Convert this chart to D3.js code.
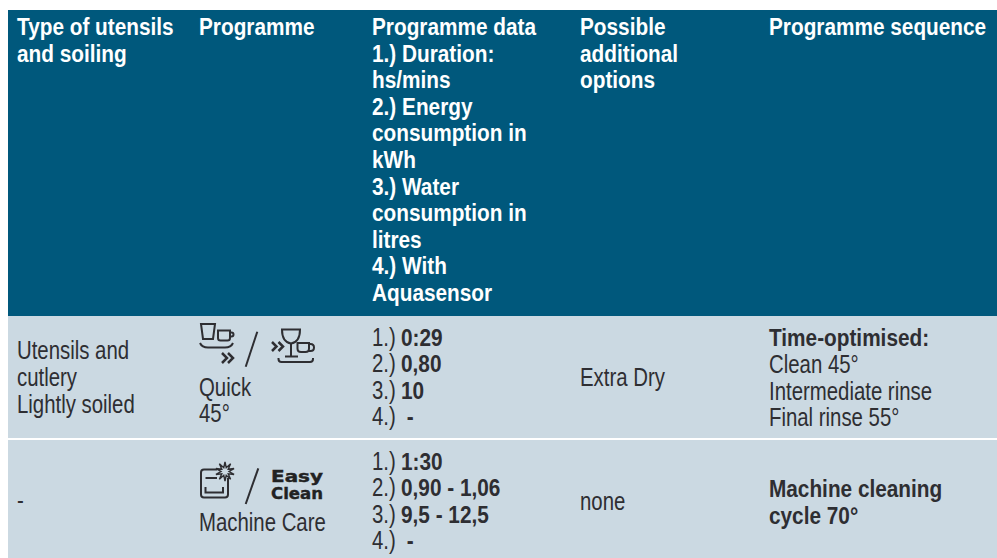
<!DOCTYPE html>
<html>
<head>
<meta charset="utf-8">
<script src="https://cdn.jsdelivr.net/npm/d3@7"></script>
<style>
  html, body { margin: 0; padding: 0; background: #fff; overflow: hidden; }
  svg { display: block; }
  text { font-family: "Liberation Sans", sans-serif; white-space: pre; }
</style>
</head>
<body>
<svg id="chart" width="997" height="558"></svg>
<script>
const columns = ['soiling', 'programme', 'data', 'options', 'sequence']
const rowNames = ['header', 'quick', 'care']

const headerSoiling = ['Type of utensils', 'and soiling']
const headerProgramme = ['Programme']
const headerData = ['Programme data', '1.) Duration:', 'hs/mins', '2.) Energy', 'consumption in', 'kWh', '3.) Water', 'consumption in', 'litres', '4.) With', 'Aquasensor']
const headerOptions = ['Possible', 'additional', 'options']
const headerSequence = ['Programme sequence']

const quickSoiling = ['Utensils and', 'cutlery', 'Lightly soiled']
const quickProgramme = ['Quick', '45°']
const quickNumbers = ['1.)', '2.)', '3.)', '4.)']
const quickData = ['0:29', '0,80', '10', ' -']
const quickOptions = ['Extra Dry']
const quickSeqTitle = ['Time-optimised:']
const quickSeq = ['Clean 45°', 'Intermediate rinse', 'Final rinse 55°']

const careSoiling = ['-']
const careProgramme = ['Machine Care']
const careData = ['1:30', '0,90 - 1,06', '9,5 - 12,5', ' -']
const careOptions = ['none']
const careSeqTitle = ['Machine cleaning', 'cycle 70°']
const easyClean = ['Easy', 'Clean']

const svg = d3.select('#chart')

const x = d3.scaleOrdinal().domain(columns).range([17, 199, 372, 580, 769])
const rowTop = d3.scaleOrdinal().domain(rowNames).range([10, 316, 440])
const rowBottom = d3.scaleOrdinal().domain(rowNames).range([316, 438, 558])
const fills = d3.scaleOrdinal().domain(rowNames).range(['#00587c', '#cbd9e2', '#cbd9e2'])

svg.selectAll('.band')
  .data(rowNames)
  .enter()
  .append('rect')
  .classed('band', true)
  .attr('x', 8)
  .attr('y', d => rowTop(d))
  .attr('width', 989)
  .attr('height', d => rowBottom(d) - rowTop(d))
  .style('fill', d => fills(d))

const ink = '#2e2e32'

// no narrow face is installed, so the text gets squeezed horizontally
function block(lines, col, firstBaseline, opts) {
  opts = opts || {}
  const step = opts.step || 26.6
  const dx = opts.dx || 0
  const squeeze = opts.bold ? 0.885 : 0.815
  svg.append('g')
    .selectAll('text')
    .data(lines)
    .enter()
    .append('text')
    .attr('transform', (d, i) => `translate(${x(col) + dx},${firstBaseline + i * step}) scale(${squeeze},1)`)
    .attr('font-size', opts.bold ? 23.5 : 25)
    .attr('font-weight', opts.bold ? 'bold' : 'normal')
    .style('fill', opts.color || ink)
    .text(d => d)
}

const head = { bold: true, color: '#fff' }
block(headerSoiling, 'soiling', 35, head)
block(headerProgramme, 'programme', 35, head)
block(headerData, 'data', 35, head)
block(headerOptions, 'options', 35, head)
block(headerSequence, 'sequence', 35, head)

block(quickSoiling, 'soiling', 358.5, { step: 27.3 })
block(quickProgramme, 'programme', 395.5, {})
block(quickNumbers, 'data', 346, { step: 26.4 })
block(quickData, 'data', 346, { step: 26.4, bold: true, dx: 29 })
block(quickOptions, 'options', 386, {})
block(quickSeqTitle, 'sequence', 346, { bold: true })
block(quickSeq, 'sequence', 373, {})

block(careSoiling, 'soiling', 509, {})
block(careProgramme, 'programme', 531, {})
block(quickNumbers, 'data', 470, { step: 26.4 })
block(careData, 'data', 470, { step: 26.4, bold: true, dx: 29 })
block(careOptions, 'options', 510, {})
block(careSeqTitle, 'sequence', 497, { bold: true })

function icon(paths, width) {
  svg.append('g')
    .selectAll('path')
    .data(paths)
    .enter()
    .append('path')
    .attr('d', d => d)
    .style('fill', 'none')
    .style('stroke', ink)
    .style('stroke-width', width || 2)
}

// slashes between the pictograms
icon(['M257.3 331.7L245.7 366.7', 'M258.3 468.3L245.7 504'], 2)

// quick: glass and cup on a saucer, chevrons below
icon([
  'M201 324H215L213 339H203Z',
  'M218 330.5H230V338Q230 340.5 227.5 340.5H220.5Q218 340.5 218 338Z',
  'M230 332.5H231.5Q233.5 332.5 233.5 334.5Q233.5 336.5 231.5 336.5H230',
  'M200 343Q202 347.5 208 347.5H225Q231 347.5 233 343'
])
icon(['M222 353L227 358L222 363', 'M228 353L233 358L228 363'], 2.5)

// quick: chevrons, wine glass and cup on a tray
icon(['M272 342L276.5 346.5L272 351', 'M278.5 342L283 346.5L278.5 351'], 2.5)
icon([
  'M282 329.5H300Q300 342 291 343.5Q282 342 282 329.5Z',
  'M291 343.5V356.5',
  'M285 356.5H298',
  'M297.5 343H309V348.5Q309 352 305.5 352H301Q297.5 352 297.5 348.5Z',
  'M309 344H310.5Q314 344 314 347.5Q314 351 310.5 351H309',
  'M278.5 358V359Q278.5 362 281.5 362H310Q313 362 313 359V358'
])

// machine care: tub with a sparkle on the corner
icon([
  'M217 469.5H204Q201 469.5 201 472.5V494.5Q201 497.5 204 497.5H225Q228 497.5 228 494.5V478',
  'M205.5 478H217',
  'M205.5 487V492.5H223V487'
])
const spikes = [9.5, 4, 9.5, 4, 9.5, 4, 9.5, 4, 9.5, 4, 9.5, 4, 9.5, 4, 9.5, 4, 9.5, 4, 9.5, 4]
const sparkle = d3.lineRadial()
  .angle((d, i) => i * 2 * Math.PI / spikes.length)
  .radius(d => d)
  .curve(d3.curveLinearClosed)
svg.append('path')
  .attr('transform', 'translate(225,471.5)')
  .attr('d', sparkle(spikes))
  .style('fill', '#cbd9e2')
  .style('stroke', ink)
  .style('stroke-width', 1.4)

svg.append('g')
  .selectAll('text')
  .data(easyClean)
  .enter()
  .append('text')
  .attr('x', 271)
  .attr('y', (d, i) => 482 + i * 16.5)
  .attr('font-size', 16.5)
  .attr('font-weight', 'bold')
  .style('font-family', '"DejaVu Sans", sans-serif')
  .style('fill', '#222')
  .style('stroke', '#222')
  .style('stroke-width', 0.4)
  .attr('textLength', 52)
  .attr('lengthAdjust', 'spacingAndGlyphs')
  .text(d => d)
</script>
</body>
</html>
